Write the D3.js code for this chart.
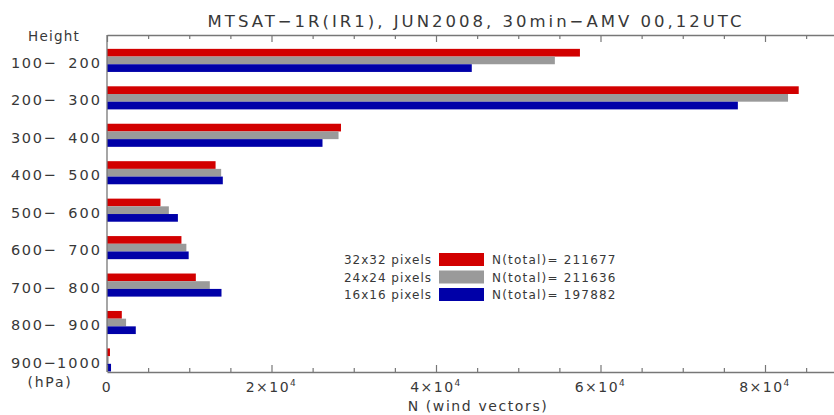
<!DOCTYPE html>
<html><head><meta charset="utf-8">
<script src="https://cdn.jsdelivr.net/npm/d3@7"></script>
<style>body{margin:0;background:#fff}svg{display:block}text{font-family:"DejaVu Sans",sans-serif;fill:#383838;white-space:pre}</style>
</head><body>
<script>
const categories = ["100\u2212 200","200\u2212 300","300\u2212 400","400\u2212 500","500\u2212 600","600\u2212 700","700\u2212 800","800\u2212 900","900\u22121000"];
const seriesNames = ["32x32 pixels","24x24 pixels","16x16 pixels"];
const seriesTotals = ["211677","211636","197882"];
const seriesColors = ["#d20000","#9a9a9a","#0000a8"];
const red32 = [57500, 84100, 28450, 13200, 6500, 9050, 10800, 1800, 360];
const gray24 = [54450, 82800, 28150, 13880, 7520, 9650, 12500, 2320, 200];
const blue16 = [44350, 76700, 26200, 14080, 8620, 9930, 13920, 3500, 490];
const values = [red32, gray24, blue16];
const xTicks = [0, 20000, 40000, 60000, 80000];
const xTickLabels = ["0", "2\u00d710", "4\u00d710", "6\u00d710", "8\u00d710"];

const W = 834, H = 415;
const svg = d3.select("body").append("svg").attr("width", W).attr("height", H);
const L = 107, T = 35, B = 372;
const x = d3.scaleLinear().domain([0, 90000]).range([L, L + 9 * 82.25]);
const y = d3.scaleBand().domain(categories).range([T, B]).padding(0);
const inner = d3.scaleBand().domain(d3.range(3)).range([y.bandwidth() * 0.37, y.bandwidth() - 0.5]).padding(0);

// title
svg.append("text").attr("x", 476).attr("y", 27).attr("text-anchor", "middle")
  .style("font-size", "16.5px").style("letter-spacing", "3px")
  .text("MTSAT\u22121R(IR1), JUN2008, 30min\u2212AMV 00,12UTC");

// bars
values.forEach((vals, s) => {
  svg.append("g").selectAll("rect").data(vals).join("rect")
    .attr("x", x(0)).attr("y", (d, i) => y(categories[i]) + inner(s))
    .attr("width", d => x(d) - x(0)).attr("height", inner.bandwidth())
    .attr("fill", seriesColors[s]);
});

// axes
const minor = d3.range(0, 90001, 5000);
const axCol = "#777";
const bottom = d3.axisBottom(x).tickValues(minor).tickSize(0).tickFormat("");
const gB = svg.append("g").attr("transform", `translate(0,${B})`).call(bottom);
const gT = svg.append("g").attr("transform", `translate(0,${T})`).call(d3.axisTop(x).tickValues(minor).tickSize(0).tickFormat(""));
[gB, gT].forEach(g => { g.select(".domain").attr("stroke", axCol).attr("stroke-width", 1.3); });
gB.selectAll(".tick line").attr("stroke", axCol).attr("stroke-width", 1.2)
  .attr("y2", d => d % 20000 === 0 ? -7 : -4);
gT.selectAll(".tick line").attr("stroke", axCol).attr("stroke-width", 1.2)
  .attr("y2", d => d % 20000 === 0 ? 7 : 4);
svg.append("line").attr("x1", L).attr("x2", L).attr("y1", T).attr("y2", B)
  .attr("stroke", axCol).attr("stroke-width", 1.3);

// x tick labels
xTicks.forEach((v, i) => {
  const t = svg.append("text").attr("x", x(v)).attr("y", 392).attr("text-anchor", "middle")
    .style("font-size", "14px").style("letter-spacing", "1.5px");
  t.append("tspan").text(xTickLabels[i]);
  if (i) t.append("tspan").attr("dy", -6).style("font-size", "9px").text("4");
});
svg.append("text").attr("x", 478).attr("y", 411).attr("text-anchor", "middle")
  .style("font-size", "14px").style("letter-spacing", "1.6px").text("N (wind vectors)");

// y labels: prefix left-aligned, suffix right-aligned
categories.forEach(c => {
  const yy = y(c) + y.bandwidth() * 0.68 + 7.5;
  const pre = c.slice(0, 4), suf = c.slice(4).trim();
  svg.append("text").attr("x", 11).attr("y", yy).style("font-size", "14.5px").style("letter-spacing", "1.6px").text(pre);
  svg.append("text").attr("x", 102).attr("y", yy).attr("text-anchor", "end").style("font-size", "14.5px").style("letter-spacing", "2px").text(suf);
});
svg.append("text").attr("x", 54).attr("y", 41).attr("text-anchor", "middle").style("font-size", "13.5px").style("letter-spacing", "1.2px").text("Height");
svg.append("text").attr("x", 50).attr("y", 387).attr("text-anchor", "middle").style("font-size", "14px").style("letter-spacing", "1.8px").text("(hPa)");

// legend
seriesNames.forEach((n, i) => {
  const yy = 253 + i * 17.5;
  svg.append("text").attr("x", 432).attr("y", yy + 11).attr("text-anchor", "end").style("font-size", "12px").style("letter-spacing", "1px").text(n);
  svg.append("rect").attr("x", 439).attr("y", yy).attr("width", 45).attr("height", 13).attr("fill", seriesColors[i]);
  svg.append("text").attr("x", 492).attr("y", yy + 11).style("font-size", "12px").style("letter-spacing", "1.2px").text("N(total)= " + seriesTotals[i]);
});
</script>
</body></html>
